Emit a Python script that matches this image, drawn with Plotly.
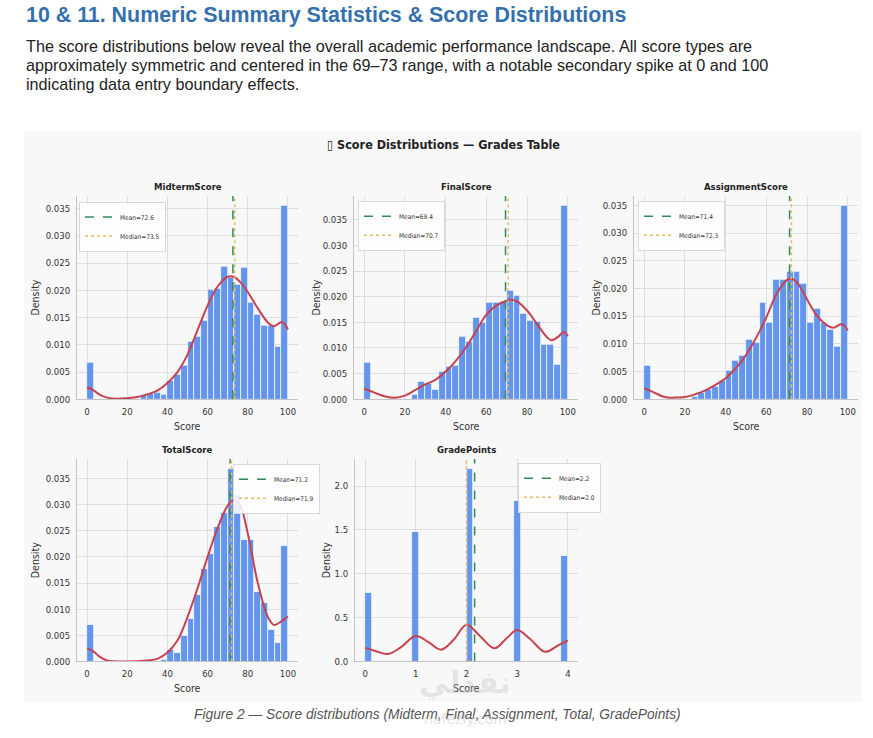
import numpy as np
import plotly.graph_objects as go

# ---- text on the page ----
heading = "10 & 11. Numeric Summary Statistics & Score Distributions"
intro_lines = [
    "The score distributions below reveal the overall academic performance landscape. All score types are",
    "approximately symmetric and centered in the 69\u201373 range, with a notable secondary spike at 0 and 100",
    "indicating data entry boundary effects.",
]
figure_title = "\u25af Score Distributions \u2014 Grades Table"
caption = "Figure 2 \u2014 Score distributions (Midterm, Final, Assignment, Total, GradePoints)"

panel_names = ["MidtermScore", "FinalScore", "AssignmentScore", "TotalScore", "GradePoints"]

# ---- histogram densities, 30 bins each ----
midterm_density = [0.0067, 0, 0, 0, 0, 0, 0, 0, 0.0008, 0.0011,
                   0.0013, 0.0009, 0.0035, 0.0046, 0.0061, 0.0106, 0.0115, 0.0144, 0.0201, 0.0203,
                   0.0244, 0.0223, 0.0211, 0.0242, 0.0177, 0.0156, 0.0135, 0.0135, 0.0097, 0.0356]
final_density = [0.0071, 0, 0, 0, 0, 0, 0, 0.0009, 0.0035, 0.0031,
                 0.0019, 0.0053, 0.0063, 0.0066, 0.0122, 0.0112, 0.0159, 0.0150, 0.0188, 0.0188,
                 0.0190, 0.0211, 0.0202, 0.0166, 0.0153, 0.0152, 0.0107, 0.0107, 0.0068, 0.0378]
assignment_density = [0.0060, 0, 0, 0, 0, 0, 0, 0.0004, 0.0012, 0.0018,
                      0.0023, 0.0033, 0.0051, 0.0069, 0.0079, 0.0108, 0.0103, 0.0174, 0.0138, 0.0215,
                      0.0215, 0.0230, 0.0230, 0.0209, 0.0138, 0.0164, 0.0138, 0.0126, 0.0095, 0.0350]
total_density = [0.0070, 0, 0, 0, 0, 0, 0, 0, 0, 0,
                 0, 0.0004, 0.0022, 0.0016, 0.0049, 0.0081, 0.0127, 0.0178, 0.0206, 0.0257,
                 0.0285, 0.0369, 0.0318, 0.0233, 0.0233, 0.0133, 0.0113, 0.0060, 0.0035, 0.0222]
gradepoints_density = [0.78, 0, 0, 0, 0, 0, 0, 1.48, 0, 0,
                       0, 0, 0, 0, 0, 2.20, 0, 0, 0, 0,
                       0, 0, 1.83, 0, 0, 0, 0, 0, 0, 1.20]

# ---- KDE curves ----
midterm_kde_x = [0, 3, 6, 10, 15, 20, 25, 30, 35, 40, 45, 50, 55, 60, 65, 70, 73, 76, 80, 85, 90, 93, 97, 100]
midterm_kde_y = [0.0022, 0.0017, 0.0009, 0.0003, 0.0001, 0.0002, 0.0004, 0.0009, 0.0016, 0.0030, 0.0050, 0.0082,
                 0.0127, 0.0172, 0.0207, 0.0225, 0.0225, 0.0216, 0.0197, 0.0167, 0.0141, 0.0134, 0.0142, 0.0128]
final_kde_x = [0, 5, 10, 15, 20, 25, 30, 35, 40, 45, 50, 55, 60, 65, 70, 72, 75, 80, 85, 90, 92, 95, 98, 100]
final_kde_y = [0.0021, 0.0013, 0.0006, 0.0003, 0.0007, 0.0018, 0.0029, 0.0038, 0.0054, 0.0075, 0.0101, 0.0133,
               0.0165, 0.0183, 0.0192, 0.0194, 0.0191, 0.0173, 0.0146, 0.0120, 0.0115, 0.0121, 0.0131, 0.0123]
assignment_kde_x = [0, 5, 10, 15, 20, 25, 30, 35, 40, 45, 50, 55, 60, 65, 70, 72, 75, 80, 85, 90, 93, 97, 100]
assignment_kde_y = [0.0020, 0.0012, 0.0004, 0.0003, 0.0004, 0.0009, 0.0016, 0.0026, 0.0038, 0.0056, 0.0080, 0.0111,
                    0.0148, 0.0190, 0.0215, 0.0218, 0.0211, 0.0180, 0.0150, 0.0133, 0.0129, 0.0136, 0.0124]
total_kde_x = [0, 3, 6, 10, 20, 30, 35, 40, 45, 50, 55, 60, 65, 70, 73, 76, 80, 85, 90, 93, 96, 100]
total_kde_y = [0.0025, 0.0020, 0.0010, 0.0002, 0.0000, 0.0002, 0.0005, 0.0017, 0.0040, 0.0085, 0.0140, 0.0200,
               0.0255, 0.0298, 0.0308, 0.0300, 0.0245, 0.0150, 0.0085, 0.0070, 0.0075, 0.0086]
gradepoints_kde_x = [0, 0.2, 0.45, 0.7, 1.0, 1.25, 1.5, 1.75, 2.0, 2.25, 2.55, 2.8, 3.0, 3.25, 3.55, 3.8, 4.0]
gradepoints_kde_y = [0.155, 0.12, 0.085, 0.16, 0.29, 0.22, 0.135, 0.25, 0.42, 0.30, 0.15, 0.27, 0.36, 0.26, 0.11, 0.18, 0.24]

# ---- mean / median per panel ----
means = [72.6, 69.4, 71.4, 71.2, 2.16]
medians = [73.5, 70.7, 72.3, 71.9, 2.0]

densities = [midterm_density, final_density, assignment_density, total_density, gradepoints_density]
kde_x = [midterm_kde_x, final_kde_x, assignment_kde_x, total_kde_x, gradepoints_kde_x]
kde_y = [midterm_kde_y, final_kde_y, assignment_kde_y, total_kde_y, gradepoints_kde_y]
score_ticks = [0, 20, 40, 60, 80, 100]
gp_ticks = [0, 1, 2, 3, 4]

W, H = 873, 738


def px(x):
    return x / W


def py(y):
    return 1 - y / H


# axes boxes in page pixels: left, right, top, bottom
boxes = [(77, 298, 197, 402), (354, 578, 197, 402), (634, 858, 197, 402),
         (77, 298, 462, 666), (355, 578, 462, 666)]
legend_pos = [(79, 203), (358, 202), (638, 202), (233, 467), (518, 466)]
density_label_x = [35, 316, 596, 35, 326]

CHART_FONT = "DejaVu Sans Condensed, DejaVu Sans"
PAGE_FONT = "Liberation Sans, Arial"
BAR = "#6495ED"
KDE = "#c8414f"
MEAN = "#2e8b57"
MEDIAN = "#edb95e"

fig = go.Figure()
annotations = []


def note(text, x, y, size, color, family=CHART_FONT, xanchor="center", **kw):
    annotations.append(dict(text=text, x=px(x), y=py(y), xref="paper", yref="paper", showarrow=False,
                            xanchor=xanchor, yanchor="middle",
                            font=dict(family=family, size=size, color=color), **kw))


for i, name in enumerate(panel_names):
    n = "" if i == 0 else str(i + 1)
    dens = densities[i]
    hi = 4 if name == "GradePoints" else 100
    edges = np.linspace(0, hi, len(dens) + 1)
    centers = (edges[:-1] + edges[1:]) / 2
    width = edges[1] - edges[0]
    ytop = max(dens) * 1.05

    fig.add_trace(go.Bar(x=centers, y=dens, width=width, xaxis="x" + n, yaxis="y" + n,
                         marker=dict(color=BAR, line=dict(color="white", width=0.7)),
                         showlegend=False, hoverinfo="skip"))
    fig.add_trace(go.Scatter(x=kde_x[i], y=kde_y[i], xaxis="x" + n, yaxis="y" + n, mode="lines",
                             line=dict(color=KDE, width=2, shape="spline", smoothing=1.0),
                             showlegend=False, hoverinfo="skip"))
    leg = "legend" + n
    fig.add_trace(go.Scatter(x=[means[i], means[i]], y=[0, ytop], xaxis="x" + n, yaxis="y" + n,
                             mode="lines", line=dict(color=MEAN, width=1.5, dash="dash"),
                             name="Mean=%.1f" % means[i], legend=leg))
    fig.add_trace(go.Scatter(x=[medians[i], medians[i]], y=[0, ytop], xaxis="x" + n, yaxis="y" + n,
                             mode="lines", line=dict(color=MEDIAN, width=1.5, dash="dot"),
                             name="Median=%.1f" % medians[i], legend=leg))

    l, r, t, b = boxes[i]
    axis_common = dict(showgrid=True, gridcolor="#dedede", gridwidth=1, zeroline=False,
                       showline=True, linecolor="#c4c4c4", linewidth=1, ticks="",
                       tickfont=dict(family=CHART_FONT, size=9.5, color="#333333"))
    if name == "GradePoints":
        xr, xt, yfmt, ydt = [-0.2, 4.2], gp_ticks, ".1f", 0.5
    else:
        xr, xt, yfmt, ydt = [-5, 105], score_ticks, ".3f", 0.005
    fig.layout["xaxis" + n] = dict(domain=[px(l), px(r)], range=xr, tickvals=xt,
                                   anchor="y" + n, ticklabelstandoff=3, **axis_common)
    fig.layout["yaxis" + n] = dict(domain=[py(b), py(t)], range=[0, ytop], dtick=ydt,
                                   tickformat=yfmt, anchor="x" + n, ticklabelstandoff=4, **axis_common)

    lx, ly = legend_pos[i]
    fig.layout[leg] = dict(x=px(lx), y=py(ly), xanchor="left", yanchor="top",
                           bgcolor="rgba(255,255,255,0.85)", bordercolor="#d8d8d8", borderwidth=1,
                           font=dict(family=CHART_FONT, size=6.5, color="#333333"),
                           itemwidth=30, tracegroupgap=0)

    cx = (l + r) / 2
    note("<b>%s</b>" % name, cx, t - 9, 9.5, "#222222")
    note("Score", cx, b + 27, 10.5, "#333333")
    note("Density", density_label_x[i], (t + b) / 2, 10.5, "#333333", textangle=-90)

# page text
note("<b>%s</b>" % heading, 24, 15, 21.4, "#3470ad", family=PAGE_FONT, xanchor="left")
for k, line in enumerate(intro_lines):
    note(line, 24, 46 + 19.5 * k, 16.2, "#222222", family=PAGE_FONT, xanchor="left")
note("<b>%s</b>" % figure_title, 443, 145, 12.5, "#222222")
note("<i>%s</i>" % caption, 437, 719, 13.8, "#555555", family=PAGE_FONT)
# faint watermark
note("<b>\u0646\u0641\u0630\u0644\u064a</b>", 465, 688, 30, "rgba(190,190,190,0.35)", family="DejaVu Sans")
note("nafezly.com", 465, 724, 14, "rgba(190,190,190,0.45)", family="DejaVu Sans")

fig.update_layout(
    width=W, height=H, margin=dict(l=0, r=0, t=0, b=0),
    paper_bgcolor="white", plot_bgcolor="#f8f8f8",
    bargap=0, annotations=annotations,
    shapes=[dict(type="rect", xref="paper", yref="paper", x0=px(24), x1=px(862), y0=py(707), y1=py(132),
                 fillcolor="#f8f8f8", line=dict(width=0), layer="below")],
)

# drop the default page margin so the figure sits at the window's corner
fig.write_html("out.html", config={"displayModeBar": False},
               post_script="document.body.style.margin = '0';")
